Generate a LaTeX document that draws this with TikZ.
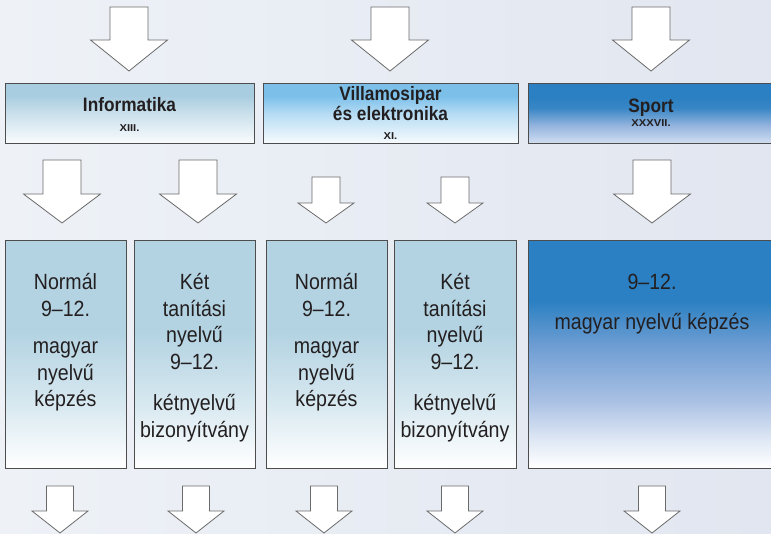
\documentclass[tikz,border=0pt]{standalone}
\usepackage{fontspec}
\setmainfont{Liberation Sans}[FakeStretch=0.89]
\newfontfamily\numfont{Liberation Sans}[FakeStretch=1.12]
\usetikzlibrary{positioning,calc}

\definecolor{bgleft}{HTML}{EEF2F7}
\definecolor{bgright}{HTML}{E1E6F0}
\definecolor{lowblue}{HTML}{B3D3E2}
\definecolor{infoblue}{HTML}{A9CDE0}
\definecolor{villblue}{HTML}{7CC0EA}
\definecolor{sportblue}{HTML}{2A80C2}
\definecolor{sportmid}{HTML}{6E9DD3}
\definecolor{sportpale}{HTML}{A8C0E3}
\definecolor{edgegrey}{HTML}{4D4D4D}
\definecolor{arrowgrey}{HTML}{6A6A6A}
\definecolor{inkblack}{HTML}{231F20}

%% shadings for the boxes (path is mapped onto 25bp..75bp)
\pgfdeclareverticalshading{lowlight}{100bp}{color(0bp)=(white); color(25bp)=(white); color(40bp)=(lowblue!55!white); color(55bp)=(lowblue); color(100bp)=(lowblue)}
\pgfdeclareverticalshading{lowsport}{100bp}{color(0bp)=(white); color(25bp)=(white); color(31bp)=(sportpale!35!white); color(40bp)=(sportpale); color(52bp)=(sportmid); color(62bp)=(sportblue); color(100bp)=(sportblue)}
\pgfdeclareverticalshading{hdrinfo}{100bp}{color(0bp)=(white); color(25bp)=(white!95!infoblue); color(50bp)=(infoblue!60!white); color(65bp)=(infoblue); color(100bp)=(infoblue)}
\pgfdeclareverticalshading{hdrvill}{100bp}{color(0bp)=(white); color(25bp)=(white!95!villblue); color(50bp)=(villblue!55!white); color(65bp)=(villblue); color(100bp)=(villblue)}
\pgfdeclareverticalshading{hdrsport}{100bp}{color(0bp)=(white); color(25bp)=(sportpale!50!white); color(40bp)=(sportpale!70!sportmid); color(55bp)=(sportblue!80!sportmid); color(65bp)=(sportblue); color(100bp)=(sportblue)}

\begin{document}
\begin{tikzpicture}[x=1pt,y=-1pt,
  hdrbox/.style={draw=edgegrey, line width=1pt, inner sep=0pt, minimum height=60pt},
  lowbox/.style={draw=edgegrey, line width=1pt, inner sep=0pt, minimum height=227pt},
  blockarrow/.style={draw=arrowgrey, fill=white, line width=0.8pt, line join=miter},
  hdrtitle/.style={font=\bfseries\fontsize{19.4}{17}\selectfont, text=inkblack, inner sep=0pt, align=center},
  hdrnum/.style={font=\numfont\bfseries\fontsize{10}{11}\selectfont, text=inkblack, inner sep=0pt},
  boxtext/.style={font=\fontsize{22}{26.5}\selectfont, text=inkblack, inner sep=0pt, align=center}]

  %% Background
  \useasboundingbox (0,0) rectangle (771,534);
  \fill[left color=bgleft, right color=bgright] (0,0) rectangle (771,534);

  %% Block arrows: centre / shaft top / neck / tip / half shaft / half head
  \foreach \cx/\ya/\yb/\yc/\sw/\hw in {129/7/40/71/19/38.5, 390/7/40/71/19/38.5, 651/7/40/71/19/38.5,
      62/160/194/223/19/38.5, 198/160/194/223/19/38.5, 652/160/194/223/19/38.5,
      326/177/203/223/14/28, 455/177/203/223/14/28,
      60/486/511/533/13.5/28, 196/486/511/533/13.5/28, 324/486/511/533/13.5/28,
      455/486/511/533/13.5/28, 652/486/511/533/13.5/28}
  {
    \draw[blockarrow] (\cx-\sw,\ya) -- (\cx+\sw,\ya) -- (\cx+\sw,\yb) -- (\cx+\hw,\yb)
      -- (\cx,\yc) -- (\cx-\hw,\yb) -- (\cx-\sw,\yb) -- cycle;
  }

  %% Header boxes
  \node[hdrbox, shading=hdrinfo,  minimum width=249pt] (info)  at (129.5,114) {};
  \node[hdrbox, shading=hdrvill,  minimum width=255pt] (vill)  at (390.5,114) {};
  \node[hdrbox, shading=hdrsport, minimum width=248pt] (sport) at (652,114) {};

  \node[hdrtitle, anchor=base] (infoT) at ($(info.north)+(0,28)$) {Informatika};
  \node[hdrnum,   anchor=base] (infoN) at ($(info.north)+(0,48)$) {XIII.};
  \node[hdrtitle, below=3pt of vill.north] (villT) {Villamosipar\\és elektronika};
  \node[hdrnum,   anchor=base] (villN) at ($(vill.north)+(0,56)$) {XI.};
  \node[hdrtitle, anchor=base] (sportT) at ($(sport.north)+(-1,29)$) {Sport};
  \node[hdrnum,   anchor=base] (sportN) at ($(sport.north)+(-1,43)$) {XXXVII.};

  %% Lower boxes
  \node[lowbox, shading=lowlight, minimum width=121pt] (boxA) at (65.5,354.5) {};
  \node[lowbox, shading=lowlight, minimum width=121pt] (boxB) at (194.5,354.5) {};
  \node[lowbox, shading=lowlight, minimum width=121pt] (boxC) at (326.5,354.5) {};
  \node[lowbox, shading=lowlight, minimum width=122pt] (boxD) at (455,354.5) {};
  \node[lowbox, shading=lowsport, minimum width=248pt] (boxE) at (652,354.5) {};

  \node[boxtext, below=33pt of boxA.north] (textA) {Normál\\9–12.\\[11pt]magyar\\nyelvű\\képzés};
  \node[boxtext, below=33pt of boxB.north] (textB) {Két\\tanítási\\nyelvű\\9–12.\\[15pt]kétnyelvű\\bizonyítvány};
  \node[boxtext, below=33pt of boxC.north] (textC) {Normál\\9–12.\\[11pt]magyar\\nyelvű\\képzés};
  \node[boxtext, below=33pt of boxD.north] (textD) {Két\\tanítási\\nyelvű\\9–12.\\[15pt]kétnyelvű\\bizonyítvány};
  \node[boxtext, below=33pt of boxE.north] (textE) {9–12.\\[13.5pt]magyar nyelvű képzés};

\end{tikzpicture}
\end{document}
